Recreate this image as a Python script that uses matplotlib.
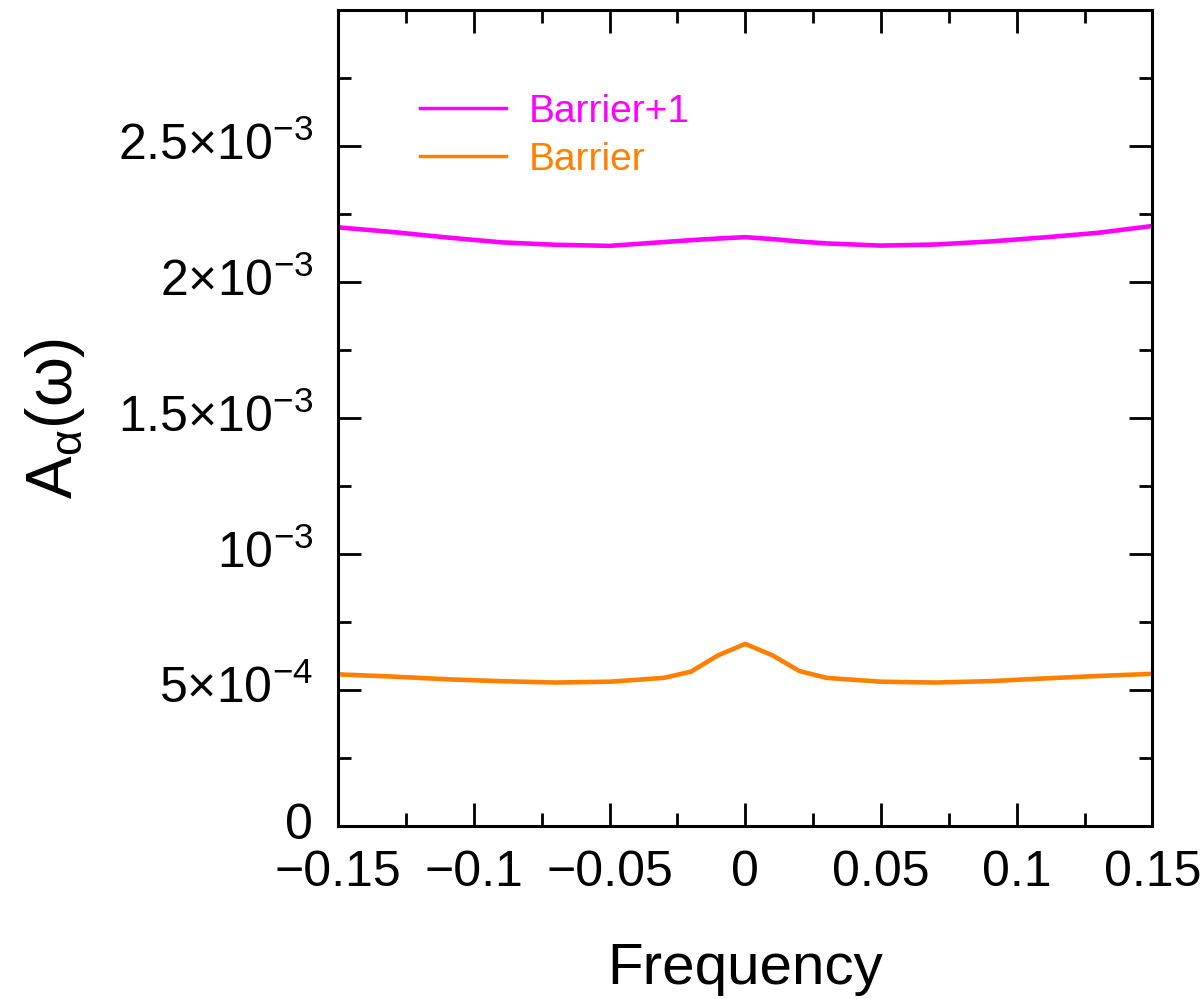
import matplotlib
matplotlib.use("Agg")
import matplotlib.pyplot as plt
import matplotlib.transforms as mtransforms
from matplotlib.ticker import FixedLocator, FixedFormatter, MultipleLocator

plt.rcParams['font.family'] = ['Liberation Sans', 'DejaVu Sans']
plt.rcParams['mathtext.fontset'] = 'custom'
plt.rcParams['mathtext.rm'] = 'Liberation Sans'
plt.rcParams['mathtext.it'] = 'Liberation Sans:italic'
plt.rcParams['mathtext.default'] = 'regular'

# spectral function vs frequency
freq = [-0.15, -0.13, -0.11, -0.09, -0.07, -0.05, -0.03, -0.02, -0.01, 0.0,
        0.01, 0.02, 0.03, 0.05, 0.07, 0.09, 0.11, 0.13, 0.15]
barrier = [5.58e-4, 5.50e-4, 5.40e-4, 5.33e-4, 5.28e-4, 5.31e-4, 5.45e-4, 5.68e-4, 6.28e-4, 6.70e-4,
           6.28e-4, 5.70e-4, 5.45e-4, 5.31e-4, 5.28e-4, 5.33e-4, 5.43e-4, 5.52e-4, 5.60e-4]
barrier_p1 = [2.201e-3, 2.184e-3, 2.164e-3, 2.146e-3, 2.137e-3, 2.133e-3, 2.147e-3, 2.154e-3, 2.160e-3, 2.165e-3,
              2.158e-3, 2.149e-3, 2.142e-3, 2.134e-3, 2.138e-3, 2.149e-3, 2.164e-3, 2.181e-3, 2.206e-3]

ytick_vals = [0, 5e-4, 1e-3, 1.5e-3, 2e-3, 2.5e-3]
ytick_labels = ['0', r'5$\times$10$^{-4}$', r'10$^{-3}$', r'1.5$\times$10$^{-3}$',
                r'2$\times$10$^{-3}$', r'2.5$\times$10$^{-3}$']
xtick_vals = [-0.15, -0.1, -0.05, 0, 0.05, 0.1, 0.15]
xtick_labels = ['\u22120.15', '\u22120.1', '\u22120.05', '0', '0.05', '0.1', '0.15']

fig = plt.figure(figsize=(12.03, 9.99), dpi=100)
ax = fig.add_axes([0.281, 0.173, 0.677, 0.817])

ax.plot(freq, barrier_p1, color='#ff00ff', lw=3.3, label='Barrier+1')
ax.plot(freq, barrier, color='#ff8000', lw=3.3, label='Barrier')

ax.set_xlim(-0.15, 0.15)
ax.set_ylim(0, 3e-3)

ax.xaxis.set_major_locator(FixedLocator(xtick_vals))
ax.xaxis.set_major_formatter(FixedFormatter(xtick_labels))
ax.xaxis.set_minor_locator(MultipleLocator(0.025))
ax.yaxis.set_major_locator(FixedLocator(ytick_vals))
ax.yaxis.set_major_formatter(FixedFormatter(ytick_labels))
ax.yaxis.set_minor_locator(MultipleLocator(2.5e-4))

ax.tick_params(which='both', direction='in', top=True, right=True, width=2, colors='black')
ax.tick_params(which='major', length=16.5, labelsize=36)
ax.tick_params(which='minor', length=9.5)
ax.tick_params(axis='x', which='major', pad=17)
ax.tick_params(axis='y', which='major', pad=18)
for s in ax.spines.values():
    s.set_linewidth(2.2)

# nudge y tick labels up a little so "0" clears the x labels
shift = mtransforms.ScaledTranslation(0, 4 / 72, fig.dpi_scale_trans)
for lbl in ax.get_yticklabels():
    lbl.set_transform(lbl.get_transform() + shift)

ax.set_xlabel('Frequency', fontsize=42, labelpad=33)
ax.set_ylabel(r'A$_{\alpha}$($\omega$)', fontsize=46, labelpad=22)

leg = ax.legend(loc='upper left', bbox_to_anchor=(0.058, 0.94), frameon=False,
                fontsize=28, handlelength=2.2, handletextpad=0.6, labelspacing=0.3,
                labelcolor='linecolor')
for h in leg.get_lines():
    h.set_linewidth(2.5)

fig.savefig('out.png', dpi=100)
